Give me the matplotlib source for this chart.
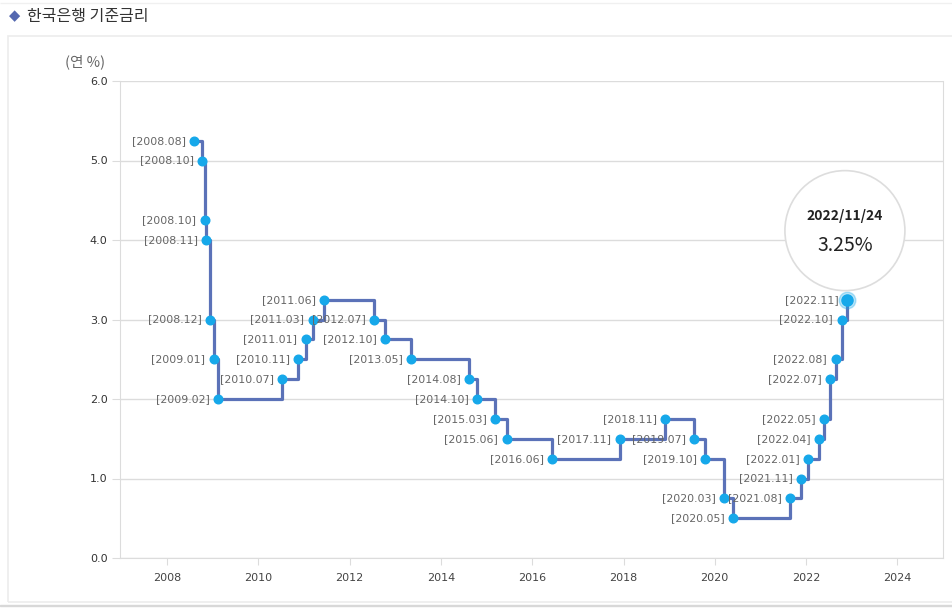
import numpy as np
import pandas as pd
import matplotlib
matplotlib.use("Agg")
import matplotlib.pyplot as plt
import matplotlib.dates as mdates
from matplotlib.patches import Circle, Rectangle
from matplotlib.transforms import ScaledTranslation

plt.rcParams['font.family'] = ['Noto Sans CJK KR', 'DejaVu Sans']

# base rate change dates and rates (% per year)
dates = ['2008-08-07', '2008-10-09', '2008-10-27', '2008-11-07', '2008-12-11',
         '2009-01-09', '2009-02-12', '2010-07-09', '2010-11-16', '2011-01-13',
         '2011-03-10', '2011-06-10', '2012-07-12', '2012-10-11', '2013-05-09',
         '2014-08-14', '2014-10-15', '2015-03-12', '2015-06-11', '2016-06-09',
         '2017-11-30', '2018-11-30', '2019-07-18', '2019-10-16', '2020-03-17',
         '2020-05-28', '2021-08-26', '2021-11-25', '2022-01-14', '2022-04-14',
         '2022-05-26', '2022-07-13', '2022-08-25', '2022-10-12', '2022-11-24']
rates = [5.25, 5.00, 4.25, 4.00, 3.00,
         2.50, 2.00, 2.25, 2.50, 2.75,
         3.00, 3.25, 3.00, 2.75, 2.50,
         2.25, 2.00, 1.75, 1.50, 1.25,
         1.50, 1.75, 1.50, 1.25, 0.75,
         0.50, 0.75, 1.00, 1.25, 1.50,
         1.75, 2.25, 2.50, 3.00, 3.25]
yticks = [0.0, 1.0, 2.0, 3.0, 4.0, 5.0, 6.0]
xyears = [2008, 2010, 2012, 2014, 2016, 2018, 2020, 2022, 2024]

d = pd.to_datetime(dates)
labels = ['[' + x.strftime('%Y.%m') + ']' for x in d]

fig = plt.figure(figsize=(9.52, 6.08), dpi=100)
ax = fig.add_axes([120/952, 1-558/608, 823/952, 477/608])

line_c = '#5b72b8'
dot_c = '#16a8ea'
grid_c = '#dcdcdc'

# frame around the chart
fig.patches.append(Rectangle((8/952, 1-602/608), 950/952, 566/608,
                             transform=fig.transFigure, fill=False,
                             edgecolor='#ececec', lw=1.2))
fig.patches.append(Rectangle((0, 1-606/608), 1, 0.001, transform=fig.transFigure,
                             facecolor='#d8d8d8', edgecolor='#d8d8d8', lw=1))
fig.patches.append(Rectangle((0, 1-3/608), 1, 0.0005, transform=fig.transFigure,
                             facecolor='#f0f0f0', edgecolor='#f0f0f0', lw=1))

ax.step(d, rates, where='post', color=line_c, lw=2.3, zorder=3)
ax.plot(d[:-1], rates[:-1], 'o', color=dot_c, ms=6.2, zorder=4)
ax.plot(d[-1:], rates[-1:], 'o', color=dot_c, ms=12, alpha=0.3, zorder=4)
ax.plot(d[-1:], rates[-1:], 'o', color=dot_c, ms=8, zorder=5)

for x, y, t in zip(d, rates, labels):
    ax.annotate(t, (x, y), xytext=(-6, 0), textcoords='offset points',
                ha='right', va='center', fontsize=7.9, color='#666666',
                family=['DejaVu Sans'], zorder=6)

# highlight bubble over the latest value
xl = mdates.date2num(d[-1])
tr = fig.dpi_scale_trans + ScaledTranslation(xl, rates[-1], ax.transData)
ax.add_patch(Circle((-0.02, 0.69), 0.60, transform=tr, facecolor='white',
                    edgecolor='#dddddd', lw=1.2, zorder=7, clip_on=False))
ax.text(-0.02, 0.84, '2022/11/24', transform=tr, ha='center', va='center',
        fontsize=10, fontweight='bold', color='#222222', zorder=8)
ax.text(-0.02, 0.54, '3.25%', transform=tr, ha='center', va='center',
        fontsize=14, color='#222222', zorder=8)

ax.set_ylim(0, 6)
ax.set_yticks(yticks)
ax.set_yticklabels(['%.1f' % v for v in yticks])
ax.set_xlim(pd.Timestamp('2006-12-20'), pd.Timestamp('2025-01-01'))
ax.set_xticks([pd.Timestamp('%d-01-01' % y) for y in xyears])
ax.set_xticklabels([str(y) for y in xyears])
ax.grid(axis='y', color=grid_c, lw=1)
ax.tick_params(axis='y', length=6, color=grid_c, labelsize=8, labelcolor='#333333', pad=3)
ax.tick_params(axis='x', length=5, color=grid_c, labelsize=8, labelcolor='#444444', pad=6)
for s in ['left', 'right', 'bottom']:
    ax.spines[s].set_color(grid_c)
ax.spines['top'].set_visible(False)
for t in ax.get_xticklabels() + ax.get_yticklabels():
    t.set_family(['DejaVu Sans'])

fig.text(85/952, 1-62/608, '(연 %)', ha='center', va='center', fontsize=10.5,
         color='#666666')
fig.text(9/952, 1-16/608, '◆', ha='left', va='center', fontsize=10.5,
         color='#5468b0', family=['DejaVu Sans'])
fig.text(27/952, 1-16/608, '한국은행 기준금리', ha='left', va='center',
         fontsize=11.5, color='#333333')

fig.savefig('out.png', dpi=100)
